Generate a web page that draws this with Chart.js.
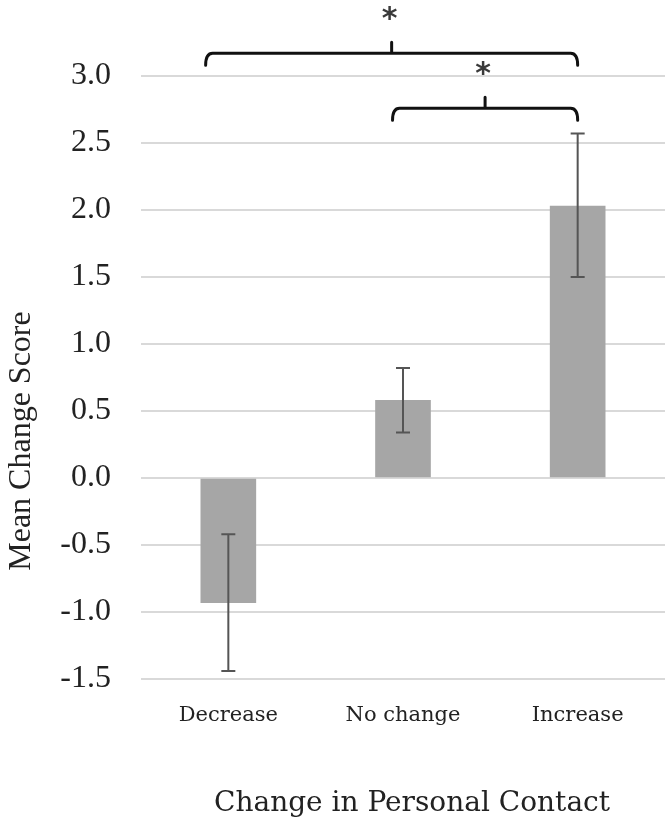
<!DOCTYPE html>
<html>
<head>
<meta charset="utf-8">
<script src="https://cdn.jsdelivr.net/npm/chart.js@4/dist/chart.umd.min.js"></script>
<style>
    html, body { margin: 0; padding: 0; background: #fff; }
    #wrap { width: 667px; height: 829px; position: relative; }
</style>
</head>
<body>
<div id="wrap"><canvas id="chart"></canvas></div>
<script>
const categories = ['Decrease', 'No change', 'Increase'];
const meanScores = [-0.93, 0.58, 2.03];
const errUpper = [-0.42, 0.82, 2.57];
const errLower = [-1.44, 0.34, 1.50];
const yTicks = [-1.5, -1.0, -0.5, 0.0, 0.5, 1.0, 1.5, 2.0, 2.5, 3.0];

// significance brackets: from / to in category units, level in data units
const bracketFrom = [-0.13, 0.94];
const bracketTo = [2.0, 2.0];
const bracketLevel = [3.17, 2.76];
const bracketLabel = ['*', '*'];

const TIMES = '"Liberation Serif", "Times New Roman", Tinos, serif';

const errorBars = {
    id: 'errorBars',
    afterDatasetsDraw(chart) {
        const { ctx, scales: { y } } = chart;
        const meta = chart.getDatasetMeta(0);
        ctx.save();
        ctx.strokeStyle = '#555555';
        ctx.lineWidth = 2;
        meta.data.forEach((bar, i) => {
            const top = y.getPixelForValue(errUpper[i]);
            const bot = y.getPixelForValue(errLower[i]);
            ctx.beginPath();
            ctx.moveTo(bar.x, top);
            ctx.lineTo(bar.x, bot);
            ctx.moveTo(bar.x - 7, top);
            ctx.lineTo(bar.x + 7, top);
            ctx.moveTo(bar.x - 7, bot);
            ctx.lineTo(bar.x + 7, bot);
            ctx.stroke();
        });
        ctx.restore();
    }
};

const brackets = {
    id: 'brackets',
    afterDraw(chart) {
        const { ctx, scales: { x, y } } = chart;
        ctx.save();
        ctx.strokeStyle = '#111';
        ctx.lineWidth = 3;
        ctx.lineCap = 'round';
        bracketFrom.forEach((from, i) => {
            const x1 = x.getPixelForValue(from);
            const x2 = x.getPixelForValue(bracketTo[i]);
            const yh = y.getPixelForValue(bracketLevel[i]);
            const xm = (x1 + x2) / 2;
            ctx.beginPath();
            ctx.moveTo(x1, yh + 12);
            ctx.quadraticCurveTo(x1, yh, x1 + 7, yh);
            ctx.lineTo(x2 - 7, yh);
            ctx.quadraticCurveTo(x2, yh, x2, yh + 12);
            ctx.moveTo(xm, yh);
            ctx.lineTo(xm, yh - 11);
            ctx.stroke();

            ctx.fillStyle = '#3a3a3a';
            ctx.font = 'bold 30px "DejaVu Sans"';
            ctx.textAlign = 'center';
            ctx.textBaseline = 'middle';
            ctx.fillText(bracketLabel[i], xm - 2, yh - 33);
        });
        ctx.restore();
    }
};

const axisTitles = {
    id: 'axisTitles',
    afterDraw(chart) {
        const { ctx } = chart;
        ctx.save();
        ctx.fillStyle = '#222';
        ctx.textAlign = 'center';
        ctx.textBaseline = 'middle';
        ctx.font = '28px "DejaVu Serif"';
        ctx.fillText('Change in Personal Contact', 412, 804);
        ctx.translate(22, 441);
        ctx.rotate(-Math.PI / 2);
        ctx.font = '32px ' + TIMES;
        ctx.fillText('Mean Change Score', 0, 0);
        ctx.restore();
    }
};

new Chart(document.getElementById('chart'), {
    type: 'bar',
    data: {
        labels: categories,
        datasets: [{
            data: meanScores,
            backgroundColor: '#a6a6a6',
            barThickness: 55
        }]
    },
    options: {
        responsive: true,
        maintainAspectRatio: false,
        animation: false,
        layout: { padding: { top: 76, right: 2, left: 0, bottom: 0 } },
        plugins: {
            legend: { display: false },
            tooltip: { enabled: false }
        },
        scales: {
            x: {
                grid: { display: false },
                border: { display: false },
                ticks: {
                    color: '#222',
                    font: { family: 'DejaVu Serif', size: 21 },
                    padding: 16
                },
                afterFit(scale) { scale.height = 150; }
            },
            y: {
                min: -1.5,
                max: 3.0,
                afterBuildTicks(scale) {
                    scale.ticks = yTicks.map(v => ({ value: v }));
                },
                grid: { color: '#d9d9d9', lineWidth: 2, drawTicks: false },
                border: { display: false },
                ticks: {
                    color: '#222',
                    font: { family: TIMES, size: 32 },
                    padding: 30,
                    callback: v => v.toFixed(1)
                },
                afterFit(scale) { scale.width = 141; }
            }
        }
    },
    plugins: [errorBars, brackets, axisTitles]
});
</script>
</body>
</html>
